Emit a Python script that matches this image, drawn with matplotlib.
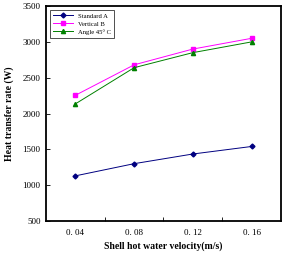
import matplotlib
matplotlib.use("Agg")
import matplotlib.pyplot as plt

# data
velocity = ["0. 04", "0. 08", "0. 12", "0. 16"]
standard_a = [1130, 1300, 1435, 1540]
vertical_b = [2255, 2680, 2900, 3050]
angle_c = [2135, 2640, 2850, 3000]

plt.rcParams['font.family'] = ['Liberation Serif', 'DejaVu Serif']

fig = plt.figure(figsize=(2.86, 2.54), dpi=100)
ax = fig.add_axes([0.161, 0.130, 0.821, 0.846])

x = range(len(velocity))
ax.plot(x, standard_a, '-D', color='#000080', lw=0.7, ms=2.5, label='Standard A')
ax.plot(x, vertical_b, '-s', color='#ff00ff', lw=0.7, ms=3.5, label='Vertical B')
ax.plot(x, angle_c, '-^', color='#008000', lw=0.7, ms=3, label='Angle 45\u00b0 C')

ax.set_xlim(-0.5, 3.5)
ax.set_ylim(500, 3500)
ax.set_yticks(range(500, 3501, 500))
ax.set_xticks(list(x))
ax.set_xticklabels(velocity)
ax.set_xticks([0.5, 1.5, 2.5], minor=True)
ax.tick_params(axis='x', which='major', length=0, labelsize=6.5, pad=6)
ax.tick_params(axis='x', which='minor', direction='in', length=3, width=0.6)
ax.tick_params(axis='y', direction='in', length=3, width=0.6, labelsize=6.5, pad=4)
for s in ax.spines.values():
    s.set_linewidth(1.3)

ax.set_xlabel('Shell hot water velocity(m/s)', fontsize=7, fontweight='bold', labelpad=3)
ax.set_ylabel('Heat transfer rate (W)', fontsize=7, fontweight='bold', labelpad=6)

leg = ax.legend(loc='upper left', fontsize=4.8, frameon=True, fancybox=False,
                edgecolor='black', borderpad=0.45, handlelength=3, labelspacing=0.35,
                borderaxespad=0.6)
leg.get_frame().set_linewidth(0.6)

fig.savefig('out.png', dpi=100)
